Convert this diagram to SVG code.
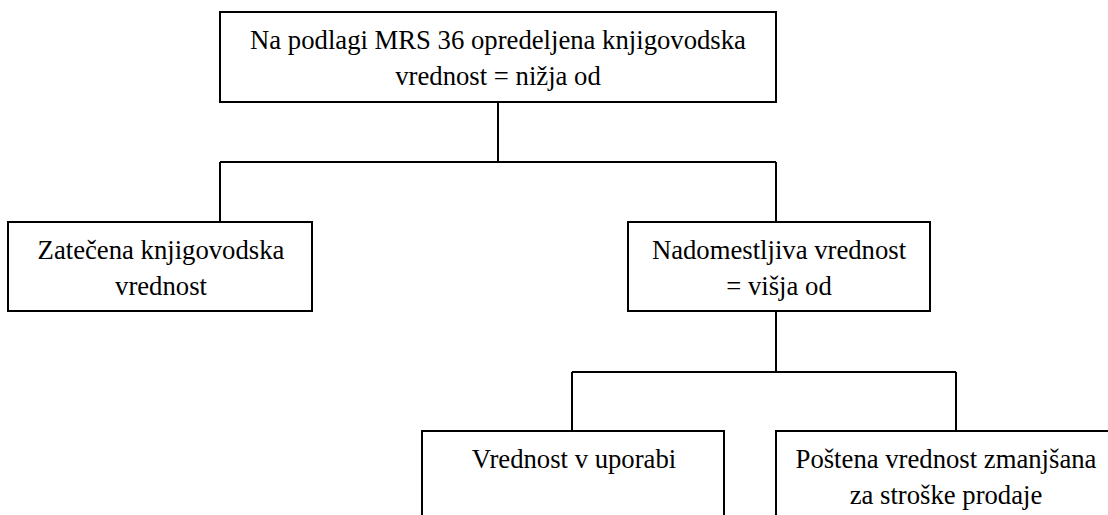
<svg xmlns="http://www.w3.org/2000/svg" width="1108" height="515" viewBox="0 0 1108 515">
<style>
.box{fill:#fff;stroke:#000;stroke-width:2}
.ln{fill:none;stroke:#000;stroke-width:2}
</style>
<rect width="1108" height="515" fill="#fff"/>
<g id="connectors">
<path class="ln" d="M498,102 V162 M220,162 H776 M220,162 V222 M776,162 V222"/>
<path class="ln" d="M776,311 V372 M572,372 H956 M572,372 V431 M956,372 V431"/>
</g>
<g font-family="Liberation Serif, serif" font-size="26.7" text-anchor="middle" fill="#000">
<g id="top">
<rect class="box" x="220" y="12" width="556" height="90"/>
<text x="498" y="49">Na podlagi MRS 36 opredeljena knjigovodska</text>
<text x="498" y="85">vrednost = nižja od</text>
</g>
<g id="zatecena">
<rect class="box" x="8" y="222" width="304" height="89"/>
<text x="161" y="259">Zatečena knjigovodska</text>
<text x="161" y="295">vrednost</text>
</g>
<g id="nadomestljiva">
<rect class="box" x="628" y="222" width="302" height="89"/>
<text x="779" y="259">Nadomestljiva vrednost</text>
<text x="779" y="295">= višja od</text>
</g>
<g id="uporaba">
<rect class="box" x="422" y="431" width="302" height="100"/>
<text x="574" y="468">Vrednost v uporabi</text>
</g>
<g id="postena">
<rect class="box" x="776" y="431" width="350" height="100"/>
<text x="946" y="468">Poštena vrednost zmanjšana</text>
<text x="946" y="504">za stroške prodaje</text>
</g>
</g>
</svg>
